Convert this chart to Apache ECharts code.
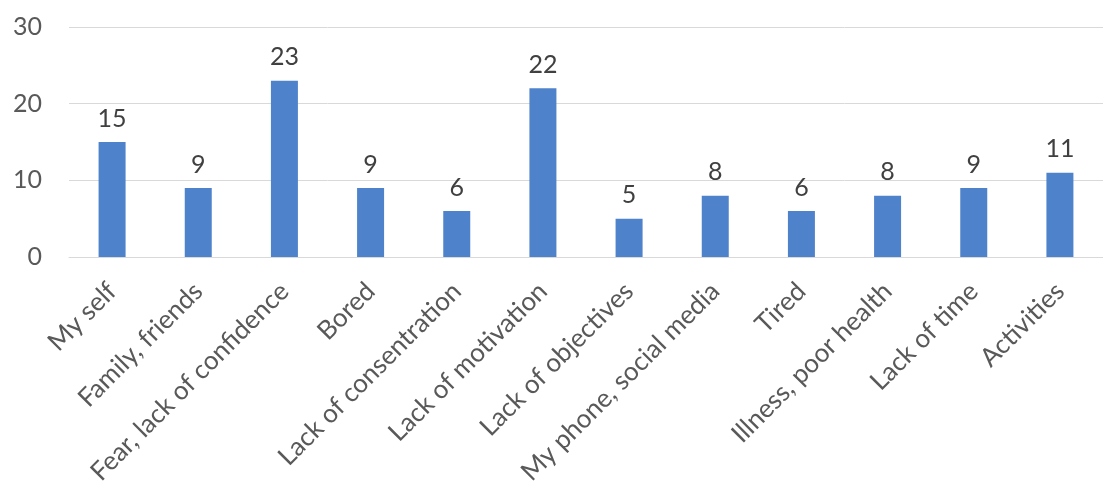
<!DOCTYPE html>
<html>
<head>
<meta charset="utf-8">
<script src="https://cdn.jsdelivr.net/npm/echarts@6/dist/echarts.min.js"></script>
<style>
  html, body { margin: 0; padding: 0; background: #fff; }
  #chart { width: 1103px; height: 488px; }
</style>
</head>
<body>
<div id="chart"></div>
<script>
// 类别与数值
const categories = ['My self', 'Family, friends', 'Fear, lack of confidence', 'Bored',
  'Lack of consentration', 'Lack of motivation', 'Lack of objectives',
  'My phone, social media', 'Tired', 'Illness, poor health', 'Lack of time', 'Activities'];
const counts = [15, 9, 23, 9, 6, 22, 5, 8, 6, 8, 9, 11];
const yTicks = [0, 10, 20, 30];

const chart = echarts.init(document.getElementById('chart'));
chart.setOption({
  animation: false,
  textStyle: { fontFamily: 'Lato, "Open Sans", sans-serif' },
  grid: { left: 69, top: 27, width: 1046, height: 230 },
  xAxis: {
    type: 'category',
    data: categories,
    axisLine: { lineStyle: { color: '#d9d9d9' } },
    axisTick: { show: false },
    axisLabel: { rotate: 45, color: '#595959', fontSize: 26, margin: 30, interval: 0 }
  },
  yAxis: {
    type: 'value',
    min: yTicks[0],
    max: yTicks[yTicks.length - 1],
    interval: 10,
    axisLine: { show: false },
    axisTick: { show: false },
    axisLabel: { color: '#595959', fontSize: 25, margin: 27 },
    splitLine: { lineStyle: { color: '#d9d9d9' } }
  },
  series: [{
    type: 'bar',
    data: counts,
    barWidth: 27,
    itemStyle: { color: '#4e82cb' },
    label: { show: true, position: 'top', color: '#404040', fontSize: 25, distance: 11 }
  }]
});
</script>
</body>
</html>
